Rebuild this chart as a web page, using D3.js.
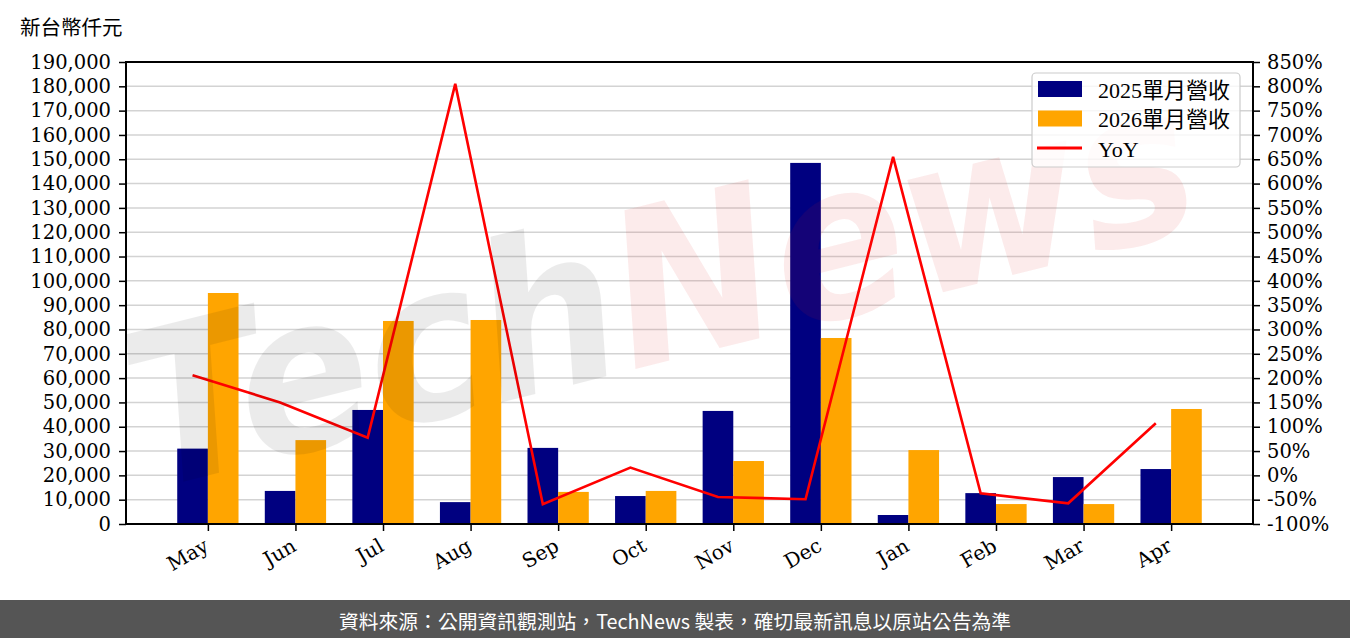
<!DOCTYPE html>
<html><head><meta charset="utf-8">
<script src="https://cdn.jsdelivr.net/npm/d3@7"></script>
<style>
body{margin:0;background:#fff;}
svg{display:block;}
</style></head>
<body>
<svg id="chart" width="1350" height="638"></svg>
<script>
const months = ["May","Jun","Jul","Aug","Sep","Oct","Nov","Dec","Jan","Feb","Mar","Apr"];
const rev2025 = [31000,13600,46900,9000,31300,11500,46500,148500,3700,12700,19300,22600];
const rev2026 = [95000,34500,83500,83900,13200,13600,25900,76500,30400,8200,8200,47300];
const yoy = [206,150,77.5,805,-59.5,16,-44.5,-49,655,-37,-57.4,107];
const leftTicks = d3.range(0,190001,10000);
const rightTicks = d3.range(-100,851,50);
const seriesNames = ["2025單月營收","2026單月營收","YoY"];

const serif = "'DejaVu Serif', 'Noto Sans CJK TC', serif";
const svg = d3.select("#chart");
const L=126,R=1253,T=62,B=524;
const bw = 0.35;
const x = d3.scaleLinear().domain([-0.935, 11.935]).range([L,R]);
const y = d3.scaleLinear().domain([0,190000]).range([B,T]);
const y2 = d3.scaleLinear().domain([-100,850]).range([B,T]);

// grid
svg.append("g").selectAll("line").data(leftTicks.slice(1)).join("line")
  .attr("x1",L).attr("x2",R).attr("y1",d=>y(d)).attr("y2",d=>y(d))
  .attr("stroke","#d3d3d3").attr("stroke-width",1.5);

// bars
svg.append("g").selectAll("rect").data(rev2025).join("rect")
  .attr("x",(d,i)=>x(i-bw)).attr("width",(d,i)=>x(i)-x(i-bw))
  .attr("y",d=>y(d)).attr("height",d=>B-y(d)).attr("fill","#000080");
svg.append("g").selectAll("rect").data(rev2026).join("rect")
  .attr("x",(d,i)=>x(i)).attr("width",(d,i)=>x(i+bw)-x(i))
  .attr("y",d=>y(d)).attr("height",d=>B-y(d)).attr("fill","#FFA500");

// line
const line = d3.line().x((d,i)=>x(i-bw/2)).y(d=>y2(d));
svg.append("path").datum(yoy).attr("d",line).attr("fill","none")
  .attr("stroke","#FF0000").attr("stroke-width",2.6).attr("stroke-linejoin","miter");

// watermark
const wm = svg.append("text").attr("transform","translate(150,490) rotate(-14)")
  .attr("font-family","'DejaVu Sans', sans-serif").attr("font-weight","bold").attr("font-style","italic")
  .attr("font-size",215).attr("textLength",1090).attr("lengthAdjust","spacingAndGlyphs")
  .style("pointer-events","none");
wm.append("tspan").text("Tech").attr("fill","#000").attr("fill-opacity",0.08);
wm.append("tspan").text("News").attr("fill","rgb(220,30,30)").attr("fill-opacity",0.09);

// axes
const axL = d3.axisLeft(y).tickValues(leftTicks).tickFormat(d3.format(",")).tickSize(7).tickPadding(8);
const axR = d3.axisRight(y2).tickValues(rightTicks).tickFormat(d=>d+"%").tickSize(7).tickPadding(7);
const axB = d3.axisBottom(x).tickValues(d3.range(months.length)).tickFormat(i=>months[i]).tickSize(7).tickPadding(4);
function style(g){
  g.selectAll(".domain").remove();
  g.selectAll(".tick line").attr("stroke","#000").attr("stroke-width",1.5);
  g.selectAll("text").attr("font-family",serif).attr("font-size",19.5).attr("fill","#000");
}
svg.append("g").attr("transform",`translate(${L},0)`).call(axL).call(style);
svg.append("g").attr("transform",`translate(${R},0)`).call(axR).call(style);
const gb = svg.append("g").attr("transform",`translate(0,${B})`).call(axB).call(style);
gb.selectAll("text").attr("text-anchor","end").attr("dy",null).attr("dx",null)
  .attr("transform","translate(-1,21) rotate(-30)").attr("y",0).attr("x",0).attr("dominant-baseline","middle")
  .attr("font-size",20);

// frame
svg.append("rect").attr("x",L).attr("y",T).attr("width",R-L).attr("height",B-T)
  .attr("fill","none").attr("stroke","#000").attr("stroke-width",2);

// unit label
svg.append("text").attr("x",20).attr("y",35).text("新台幣仟元")
  .attr("font-family","'Noto Sans CJK TC', sans-serif").attr("font-size",20.5).attr("fill","#000");

// legend
const lg = svg.append("g");
lg.append("rect").attr("x",1032).attr("y",73).attr("width",208).attr("height",94).attr("rx",4)
  .attr("fill","#fff").attr("fill-opacity",0.8).attr("stroke","#ccc").attr("stroke-width",1.2);
const colors = ["#000080","#FFA500","#FF0000"];
seriesNames.forEach((n,i)=>{
  const cy = 89 + i*29.5;
  if(i<2) lg.append("rect").attr("x",1038).attr("y",cy-8).attr("width",44).attr("height",16).attr("fill",colors[i]);
  else lg.append("line").attr("x1",1037).attr("x2",1082).attr("y1",cy).attr("y2",cy).attr("stroke",colors[i]).attr("stroke-width",3);
  lg.append("text").attr("x",1098).attr("y",cy+1).attr("dominant-baseline","central").text(n)
    .attr("font-family","'Liberation Serif', 'Noto Sans CJK TC', serif").attr("font-size",22).attr("fill","#000");
});

// footer
svg.append("rect").attr("x",0).attr("y",600).attr("width",1350).attr("height",38).attr("fill","#555555");
svg.append("text").attr("x",675).attr("y",620).attr("text-anchor","middle").attr("dominant-baseline","central")
  .text("資料來源：公開資訊觀測站，TechNews 製表，確切最新訊息以原站公告為準")
  .attr("font-family","'Noto Sans CJK TC', sans-serif").attr("font-size",19.8).attr("fill","#fff");
</script>
</body></html>
